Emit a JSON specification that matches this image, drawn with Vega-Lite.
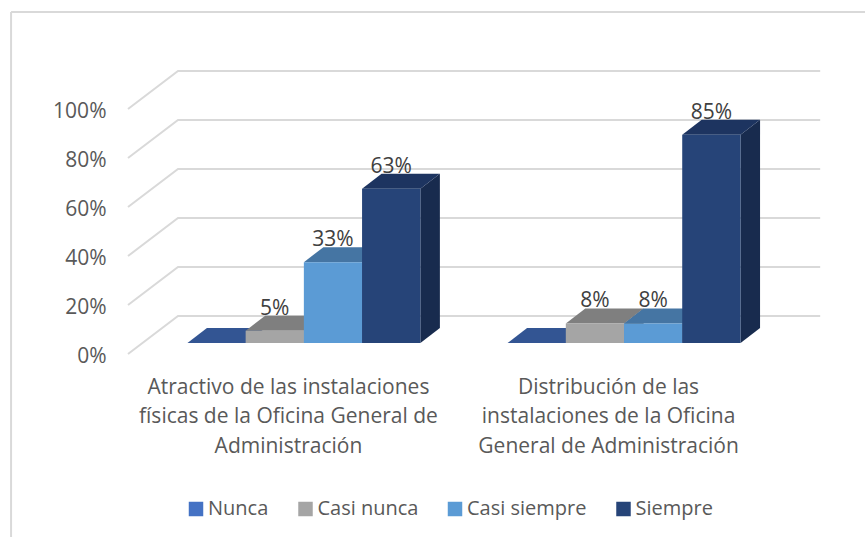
{
"$schema":"https://vega.github.io/schema/vega-lite/v6.json",
"width":865,"height":537,"padding":0,"autosize":{"type":"none"},
"background":"white",
"config":{"view":{"stroke":null},"font":"Open Sans"},
"datasets":{
 "barras":[
  {"categoria":"Atractivo","serie":"Nunca","valor":0},
  {"categoria":"Atractivo","serie":"Casi nunca","valor":5},
  {"categoria":"Atractivo","serie":"Casi siempre","valor":33},
  {"categoria":"Atractivo","serie":"Siempre","valor":63},
  {"categoria":"Distribución","serie":"Nunca","valor":0},
  {"categoria":"Distribución","serie":"Casi nunca","valor":8},
  {"categoria":"Distribución","serie":"Casi siempre","valor":8},
  {"categoria":"Distribución","serie":"Siempre","valor":85}
 ],
 "ticks":[{"tick":0},{"tick":20},{"tick":40},{"tick":60},{"tick":80},{"tick":100}],
 "cats":[
  {"orden":0,"nombre":"Atractivo de las instalaciones\nfísicas de la Oficina General de\nAdministración"},
  {"orden":1,"nombre":"Distribución de las\ninstalaciones de la Oficina\nGeneral de Administración"}
 ]
},
"encoding":{
 "x":{"type":"quantitative","scale":{"domain":[-3.22,11.64],"range":[0,865],"nice":false,"zero":false},"axis":null},
 "y":{"type":"quantitative","scale":{"domain":[0,100],"range":[354,109],"nice":false,"zero":false},
    "axis":{"orient":"left","values":[0,20,40,60,80,100],"title":null,"domain":false,"ticks":false,"grid":false,"labelPadding":0,"offset":-106,"labelOffset":2.5,"labelExpr":"datum.value+'%'","labelFontSize":21,"labelColor":"#595959","labelFont":"Open Sans"}}
},
"layer":[
 {"data":{"values":[{"a":0}]},
  "mark":{"type":"rule","color":"#D9D9D9","strokeWidth":2},
  "encoding":{"x":{"datum":-3.03,"type":"quantitative"},
   "y":{"datum":139.6,"type":"quantitative"},
   "y2":{"datum":-75}}},
 {"data":{"values":[{"a":0}]},
  "mark":{"type":"rule","color":"#D9D9D9","strokeWidth":2},
  "encoding":{"x":{"datum":-3.03,"type":"quantitative"},"x2":{"datum":11.64},
   "y":{"datum":139.6,"type":"quantitative"}}},
 {"data":{"name":"ticks"},
  "transform":[
   {"calculate":"[0,1,2]","as":"p"},{"flatten":["p"]},
   {"calculate":"[-1.021,-0.162,10.87][datum.p]","as":"gx"},
   {"calculate":"datum.tick+(datum.p>0?15.51:0)","as":"gy"}],
  "mark":{"type":"line","color":"#D9D9D9","strokeWidth":2,"interpolate":"linear"},
  "encoding":{
   "x":{"field":"gx","type":"quantitative"},
   "y":{"field":"gy","type":"quantitative"},
   "detail":{"field":"tick"},
   "order":{"field":"p"}}},
 {"data":{"name":"barras"},
  "transform":[
   {"calculate":"(datum.categoria=='Atractivo'?0:5.5)+indexof(['Nunca','Casi nunca','Casi siempre','Siempre'],datum.serie)+1.002","as":"xR"},
   {"calculate":"datum.valor+4.49","as":"top"},
   {"calculate":"[0,1]","as":"t"},{"flatten":["t"]},
   {"calculate":"datum.xR+datum.t*0.335","as":"vx"},
   {"calculate":"datum.top+datum.t*6.12","as":"lo"},
   {"calculate":"4.49+datum.t*6.12","as":"hi"},
   {"calculate":"datum.categoria+datum.serie","as":"barra"}],
  "mark":{"type":"area","interpolate":"linear"},
  "encoding":{
   "x":{"field":"vx","type":"quantitative"},
   "y":{"field":"lo","type":"quantitative"},
   "y2":{"field":"hi"},
   "detail":{"field":"barra"},
   "color":{"field":"serie","type":"nominal","legend":null,
    "scale":{"domain":["Nunca","Casi nunca","Casi siempre","Siempre"],"range":["#2A4678","#686868","#3A6186","#182B4E"]}}}},
 {"data":{"name":"barras"},
  "transform":[
   {"calculate":"(datum.categoria=='Atractivo'?0:5.5)+indexof(['Nunca','Casi nunca','Casi siempre','Siempre'],datum.serie)","as":"xL"},
   {"calculate":"datum.xL+1.002","as":"xR"},
   {"calculate":"datum.valor+4.49","as":"top"},
   {"calculate":"[0,1,2,3]","as":"k"},{"flatten":["k"]},
   {"calculate":"[datum.xL,datum.xL+0.335,datum.xR,datum.xR+0.335][datum.k]","as":"vx"},
   {"calculate":"datum.k==3?datum.top+6.12:datum.top","as":"lo"},
   {"calculate":"datum.k==0?datum.top:datum.top+6.12","as":"hi"},
   {"calculate":"datum.categoria+datum.serie","as":"barra"}],
  "mark":{"type":"area","interpolate":"linear"},
  "encoding":{
   "x":{"field":"vx","type":"quantitative"},
   "y":{"field":"lo","type":"quantitative"},
   "y2":{"field":"hi"},
   "detail":{"field":"barra"},
   "color":{"field":"serie","type":"nominal","legend":null,
    "scale":{"domain":["Nunca","Casi nunca","Casi siempre","Siempre"],"range":["#335593","#7F7F7F","#4575A3","#1D3460"]}}}},
 {"data":{"name":"barras"},
  "transform":[
   {"calculate":"(datum.categoria=='Atractivo'?0:5.5)+indexof(['Nunca','Casi nunca','Casi siempre','Siempre'],datum.serie)","as":"xL"},
   {"calculate":"datum.xL+1.002","as":"xR"},
   {"calculate":"datum.valor+4.49","as":"top"},
   {"calculate":"4.49","as":"base"}],
  "mark":{"type":"rect"},
  "encoding":{
   "x":{"field":"xL","type":"quantitative"},"x2":{"field":"xR"},
   "y":{"field":"top","type":"quantitative"},"y2":{"field":"base"},
   "color":{"field":"serie","type":"nominal",
    "scale":{"domain":["Nunca","Casi nunca","Casi siempre","Siempre"],"range":["#4472C4","#A5A5A5","#5B9BD5","#264478"]},
    "legend":{"title":null,"orient":"none","legendX":186,"legendY":499,"direction":"horizontal","columns":4,"symbolType":"square","symbolSize":210,"symbolStrokeWidth":0,"labelFontSize":20,"labelColor":"#595959","labelFont":"Open Sans","columnPadding":26.5,"labelOffset":2}}}},
 {"data":{"name":"barras"},
  "transform":[
   {"filter":"datum.valor>0"},
   {"calculate":"(datum.categoria=='Atractivo'?0:5.5)+indexof(['Nunca','Casi nunca','Casi siempre','Siempre'],datum.serie)+0.5","as":"xC"},
   {"calculate":"datum.valor+4.49+6.12","as":"topB"},
   {"calculate":"datum.valor+'%'","as":"etiqueta"}],
  "mark":{"type":"text","fontSize":21,"color":"#404040","dy":-7,"align":"center","baseline":"middle","font":"Open Sans"},
  "encoding":{
   "x":{"field":"xC","type":"quantitative"},
   "y":{"field":"topB","type":"quantitative"},
   "text":{"field":"etiqueta"}}},
 {"data":{"name":"cats"},
  "transform":[
   {"calculate":"1.735+5.5*datum.orden","as":"xC"},
   {"calculate":"-9.2","as":"yT"}],
  "mark":{"type":"text","fontSize":21,"color":"#595959","align":"center","baseline":"top","lineBreak":"\n","lineHeight":29.5,"font":"Open Sans"},
  "encoding":{
   "x":{"field":"xC","type":"quantitative"},
   "y":{"field":"yT","type":"quantitative"},
   "text":{"field":"nombre"}}}
],
"resolve":{"scale":{"color":"independent"}}
}
